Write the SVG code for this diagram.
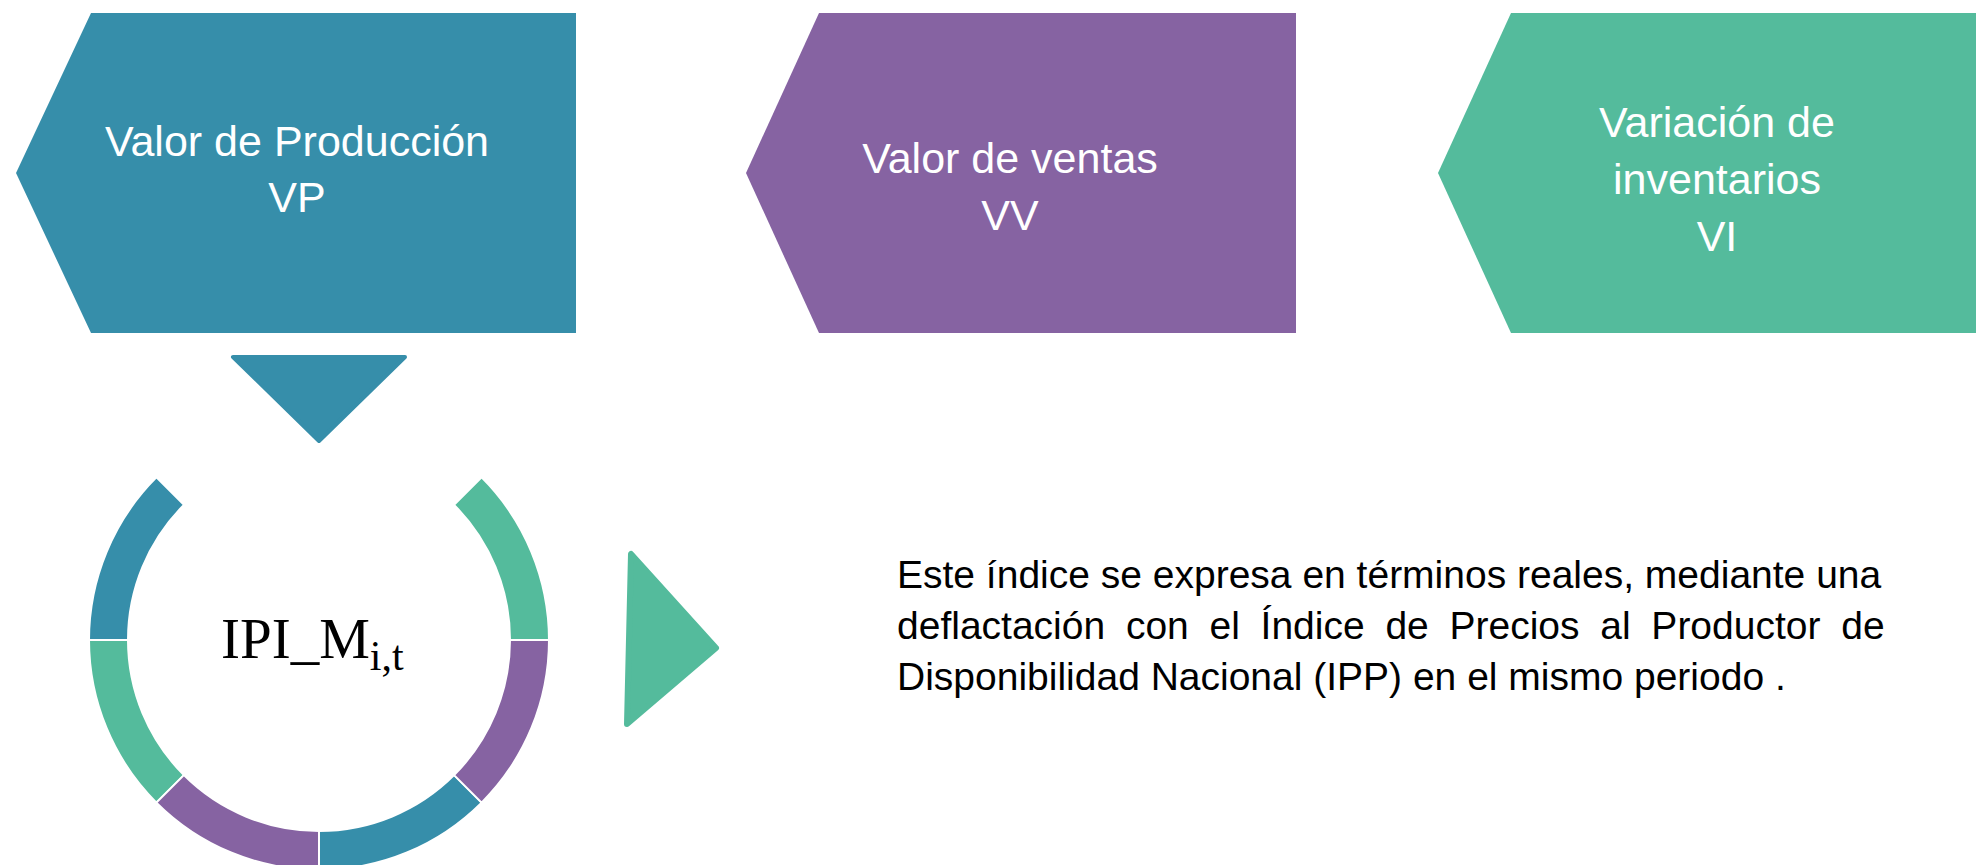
<svg xmlns="http://www.w3.org/2000/svg" width="1976" height="865" viewBox="0 0 1976 865">
<style>
.blue{fill:#368EAA}
.purple{fill:#8663A2}
.green{fill:#54BB9C}
.lbl{font-family:"Liberation Sans",Arial,sans-serif;font-size:43px;fill:#ffffff;text-anchor:middle}
.para{font-family:"Liberation Sans",Arial,sans-serif;font-size:39px;fill:#000000}
.seg{stroke:#ffffff;stroke-width:2}
</style>
<rect width="1976" height="865" fill="#ffffff"/>
<g id="node-vp">
<polygon class="blue" points="91,13 576,13 576,333 91,333 16,173"/>
<text class="lbl" x="297" y="156">Valor de Producción</text>
<text class="lbl" x="297" y="212">VP</text>
</g>
<g id="node-vv">
<polygon class="purple" points="819,13 1296,13 1296,333 819,333 746,173"/>
<text class="lbl" x="1010" y="173">Valor de ventas</text>
<text class="lbl" x="1010" y="230">VV</text>
</g>
<g id="node-vi">
<polygon class="green" points="1511,13 1976,13 1976,333 1511,333 1438,173"/>
<text class="lbl" x="1717" y="137">Variación de</text>
<text class="lbl" x="1717" y="194">inventarios</text>
<text class="lbl" x="1717" y="251">VI</text>
</g>
<g id="node-ipi">
<path class="blue seg" d="M89,640 A230,230 0 0 1 156.4,477.4 L183.9,504.9 A191,191 0 0 0 128,640 Z"/>
<path class="green seg" d="M156.4,802.6 A230,230 0 0 1 89,640 L128,640 A191,191 0 0 0 183.9,775.1 Z"/>
<path class="purple seg" d="M319,870 A230,230 0 0 1 156.4,802.6 L183.9,775.1 A191,191 0 0 0 319,831 Z"/>
<path class="blue seg" d="M481.6,802.6 A230,230 0 0 1 319,870 L319,831 A191,191 0 0 0 454.1,775.1 Z"/>
<path class="purple seg" d="M549,640 A230,230 0 0 1 481.6,802.6 L454.1,775.1 A191,191 0 0 0 510,640 Z"/>
<path class="green seg" d="M481.6,477.4 A230,230 0 0 1 549,640 L510,640 A191,191 0 0 0 454.1,504.9 Z"/>
<text x="221" y="658" font-family="'Liberation Serif','Times New Roman',serif" font-size="57" fill="#000000">IPI_M<tspan font-size="42" dy="12">i,t</tspan></text>
</g>
<g id="node-text">
<text class="para" x="897" y="588">Este índice se expresa en términos reales, mediante una</text>
<text class="para" x="897" y="639" word-spacing="9.9">deflactación con el Índice de Precios al Productor de</text>
<text class="para" x="897" y="690">Disponibilidad Nacional (IPP) en el mismo periodo .</text>
</g>
<g id="connectors">
<polygon class="blue" stroke="#368EAA" stroke-width="4" stroke-linejoin="round" points="233,357 405,357 319,441"/>
<polygon class="green" stroke="#54BB9C" stroke-width="6" stroke-linejoin="round" points="631,554 627,724 716,648"/>
</g>
</svg>
